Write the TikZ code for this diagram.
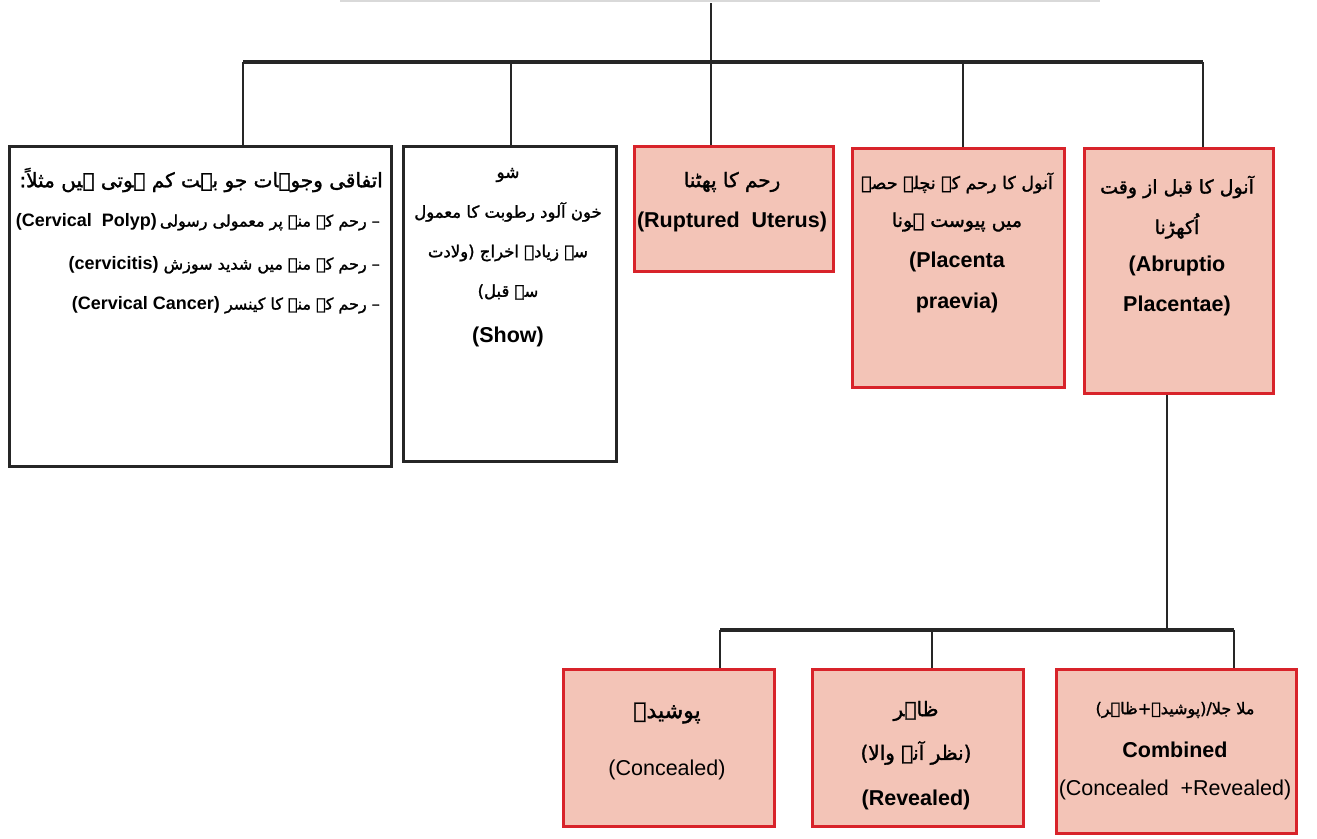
\documentclass[tikz,border=0pt]{standalone}
\usepackage{fontspec}
\setmainfont{Liberation Sans}
\newfontfamily\urdufont[Script=Arabic,FakeBold=1.5]{DejaVu Sans}
\TeXXeTstate=1
\newcommand{\ur}[1]{{\urdufont\mdseries\beginR #1\endR}}
\newcommand{\sz}[1]{\fontsize{#1}{#1}\selectfont}
\definecolor{boxred}{RGB}{216,35,42}
\definecolor{boxpink}{RGB}{243,196,183}

\begin{document}
\begin{tikzpicture}[x=1pt,y=-1pt,
  plain/.style={draw=black!85,line width=3pt,fill=white,inner sep=0pt,anchor=north west},
  redbox/.style={draw=boxred,line width=3pt,fill=boxpink,inner sep=0pt,anchor=north west},
  bus/.style={line width=4pt,black!85},
  drop/.style={line width=2.5pt,black!85},
  txt/.style={font=\sz{21.5}\bfseries,inner sep=0pt},
  lite/.style={font=\sz{21.5},inner sep=0pt},
  small/.style={font=\sz{18}\bfseries,inner sep=0pt},
  urd/.style={font=\sz{19},inner sep=0pt}]
\useasboundingbox (0,0) rectangle (1317,838);

% faint edge of the box above
\coordinate (topl) at (340,1);
\coordinate (topr) at (1100,1);
\draw[black!15,line width=1.5pt] (topl) -- (topr);

% upper row
\node[plain,minimum width=382pt,minimum height=320pt] (causes) at (8,145) {};
\node[plain,minimum width=213pt,minimum height=315pt] (show) at (402,145) {};
\node[redbox,minimum width=199pt,minimum height=125pt] (rupt) at (633,145) {};
\node[redbox,minimum width=212pt,minimum height=239pt] (praevia) at (851,147) {};
\node[redbox,minimum width=189pt,minimum height=245pt] (abrupt) at (1083,147) {};

% lower row
\node[redbox,minimum width=211pt,minimum height=157pt] (conc) at (562,668) {};
\node[redbox,minimum width=211pt,minimum height=157pt] (rev) at (811,668) {};
\node[redbox,minimum width=240pt,minimum height=164pt] (comb) at (1055,668) {};

% upper tree
\coordinate (root) at (711,3);
\coordinate (hub) at (711,62);
\coordinate (busl) at (243,62);
\coordinate (busr) at (1203,62);
\draw[drop] (root) -- (hub);
\draw[bus] (busl) -- (busr);
\foreach \x/\b in {243/causes,511/show,711/rupt,963/praevia,1203/abrupt}{
  \coordinate (b\b) at (\x,62);
  \draw[drop] (b\b) -- (b\b |- \b.north);
}

% lower tree
\coordinate (hub2) at (1167,630);
\coordinate (bus2l) at (720,630);
\coordinate (bus2r) at (1234,630);
\draw[drop] (abrupt.south -| hub2) -- (hub2);
\draw[bus] (bus2l) -- (bus2r);
\foreach \x/\b in {720/conc,932/rev,1234/comb}{
  \coordinate (b\b) at (\x,630);
  \draw[drop] (b\b) -- (b\b |- \b.north);
}

% texts
\node[urd,font=\sz{20},anchor=east] (c1) at (383,180) {\ur{اتفاقی وجوہات جو بہت کم ہوتی ہیں مثلاً:}};
\node[small,anchor=east] (c2) at (380,222) {(Cervical\ \ Polyp)\,{\sz{16}\ur{– رحم کے منہ پر معمولی رسولی}}};
\node[small,anchor=east] (c3) at (380,265) {(cervicitis)\ {\sz{16}\ur{– رحم کے منہ میں شدید سوزش}}};
\node[small,anchor=east] (c4) at (380,305) {(Cervical Cancer)\ {\sz{16}\ur{– رحم کے منہ کا کینسر}}};

\node[urd,font=\sz{17}] (s1) at (508,175) {\ur{شو}};
\node[urd,font=\sz{16.5}] (s2) at (508,212) {\ur{خون آلود رطوبت کا معمول}};
\node[urd,font=\sz{16.5}] (s3) at (508,253) {\ur{سے زیادہ اخراج (ولادت}};
\node[urd,font=\sz{16.5}] (s4) at (508,292) {\ur{سے قبل)}};
\node[txt] (s5) at (508,337) {(Show)};

\node[urd,font=\sz{20}] (r1) at (732,182) {\ur{رحم کا پھٹنا}};
\node[txt] (r2) at (732,222) {(Ruptured\ \ Uterus)};

\node[urd,font=\sz{17.5}] (p1) at (957,183) {\ur{آنول کا رحم کے نچلے حصے}};
\node[urd] (p2) at (957,222) {\ur{میں پیوست ہونا}};
\node[txt] (p3) at (957,262) {(Placenta};
\node[txt] (p4) at (957,303) {praevia)};

\node[urd] (a1) at (1177,187) {\ur{آنول کا قبل از وقت}};
\node[urd] (a2) at (1177,226) {\ur{اُکھڑنا}};
\node[txt] (a3) at (1177,266) {(Abruptio};
\node[txt] (a4) at (1177,306) {Placentae)};

\node[urd,font=\sz{22}] (k1) at (667,713) {\ur{پوشیدہ}};
\node[lite] (k2) at (667,770) {(Concealed)};

\node[urd,font=\sz{20}] (v1) at (916,711) {\ur{ظاہر}};
\node[urd,font=\sz{20}] (v2) at (916,753) {\ur{(نظر آنے والا)}};
\node[txt] (v3) at (916,800) {(Revealed)};

\node[urd,font=\sz{16}] (m1) at (1175,710) {\ur{ملا جلا/(پوشیدہ+ظاہر)}};
\node[txt] (m2) at (1175,750) {Combined};
\node[lite] (m3) at (1175,790) {(Concealed\ \ +Revealed)};
\end{tikzpicture}
\end{document}
